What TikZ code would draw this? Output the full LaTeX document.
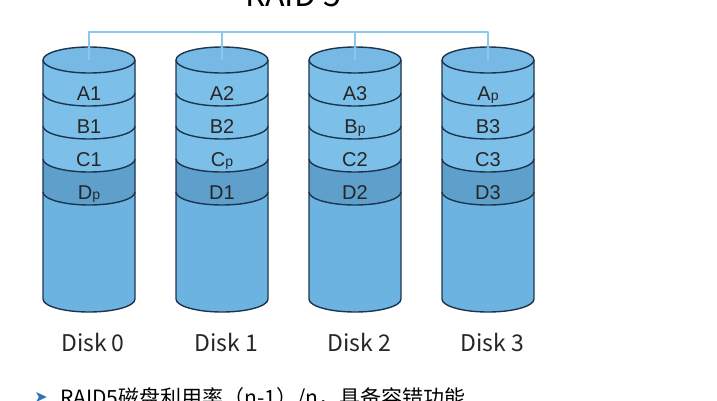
\documentclass[tikz,border=0pt]{standalone}
\usepackage{fontspec}
\setmainfont{Noto Sans CJK SC}
\newfontfamily\arialfont{Liberation Sans}
\newfontfamily\symfont{DejaVu Sans}
\definecolor{diskbody}{HTML}{6DB3E2}
\definecolor{disktop}{HTML}{76B9E5}
\definecolor{diskband}{HTML}{7CC0EA}
\definecolor{diskpar}{HTML}{5F9FCC}
\definecolor{diskline}{HTML}{1D3650}
\definecolor{busline}{HTML}{8CC8EE}
\definecolor{arrowblue}{HTML}{2E74B5}
\newcommand\parsub{{\fontsize{14}{14}\selectfont p}}
\begin{document}
\begin{tikzpicture}[x=1pt, y=1pt, line join=round,
    rim/.style={draw=diskline, line width=1.4pt},
    bus/.style={draw=busline, line width=2.4pt},
    blocklabel/.style={anchor=base, inner sep=0pt, text=black!85, font=\arialfont\fontsize{20}{20}\selectfont},
    disklabel/.style={anchor=base, inner sep=0pt, text=black!85, font=\fontsize{23}{23}\selectfont}]
				\useasboundingbox (0,0) rectangle (717,400);
				
				% 1. 标题
				\node[anchor=base, inner sep=0pt, font=\fontsize{32}{32}\selectfont] (title) at (293,393) {RAID 5};
				
				% 2. 四块磁盘 (柱体、条带、标签)
				\foreach \i/\cx/\la/\lb/\lc/\ld in {0/89/A1/B1/C1/D\parsub, 1/222/A2/B2/C\parsub/D1, 2/355/A3/B\parsub/C2/D2, 3/488/A\parsub/B3/C3/D3} {
					\fill[diskbody] (\cx-46,340) -- (\cx-46,101) arc[start angle=180, end angle=360, x radius=46, y radius=13] -- (\cx+46,340) -- cycle;
					\fill[diskband] (\cx-46,340) arc[start angle=180, end angle=360, x radius=46, y radius=13] -- (\cx+46,241) arc[start angle=0, end angle=-180, x radius=46, y radius=13] -- cycle;
					\fill[diskpar] (\cx-46,241) arc[start angle=180, end angle=360, x radius=46, y radius=13] -- (\cx+46,208) arc[start angle=0, end angle=-180, x radius=46, y radius=13] -- cycle;
					\draw[rim, fill=disktop] (\cx,340) ellipse[x radius=46, y radius=13];
					\foreach \h in {307,274,241,208}
						\draw[rim] (\cx-46,\h) arc[start angle=180, end angle=360, x radius=46, y radius=13];
					\draw[rim] (\cx-46,340) -- (\cx-46,101) arc[start angle=180, end angle=360, x radius=46, y radius=13] -- (\cx+46,340);
					\coordinate (top\i) at (\cx,340);
					\coordinate (bus\i) at (\cx,368);
					\node[blocklabel] (a\i) at (\cx,300) {\la};
					\node[blocklabel] (b\i) at (\cx,267) {\lb};
					\node[blocklabel] (c\i) at (\cx,234) {\lc};
					\node[blocklabel] (d\i) at (\cx,201) {\ld};
					\node[disklabel] (disk\i) at (\cx+4,48.5) {Disk \i};
				}
				
				% 3. 总线连线
				\draw[bus] (top0) -- (bus0) -- (bus3) -- (top3);
				\draw[bus] (bus1) -- (top1);
				\draw[bus] (bus2) -- (top2);
				
				% 4. 底部说明 (被裁切)
				\node[anchor=base west, inner sep=0pt, font=\fontsize{21}{21}\selectfont] (note) at (60,-5) {RAID5磁盘利用率（n-1）/n，具备容错功能};
				\node[anchor=base east, inner sep=0pt, text=arrowblue, font=\symfont\fontsize{16}{16}\selectfont] (bullet) at ([xshift=-12pt, yshift=3pt]note.base west) {➤};
			\end{tikzpicture}
\end{document}
